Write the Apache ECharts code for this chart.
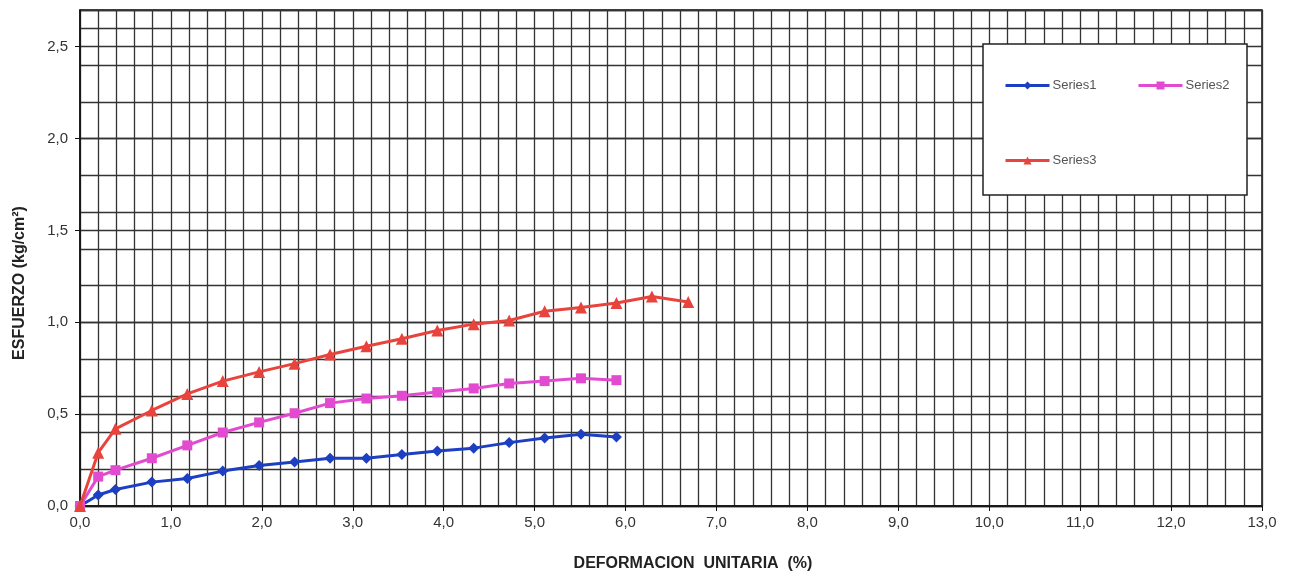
<!DOCTYPE html>
<html>
<head>
<meta charset="utf-8">
<script src="https://cdn.jsdelivr.net/npm/echarts@6/dist/echarts.min.js"></script>
<style>
html,body{margin:0;padding:0;background:#fff;}
#chart{width:1289px;height:577px;}
</style>
</head>
<body>
<div id="chart"></div>
<script>
// Deformación unitaria (%) shared by all series
const strain = [0, 0.2, 0.39, 0.79, 1.18, 1.57, 1.97, 2.36, 2.75, 3.15, 3.54, 3.93, 4.33, 4.72, 5.11, 5.51, 5.9, 6.29, 6.69];
// Esfuerzo (kg/cm²)
const series1 = [0, 0.06, 0.09, 0.13, 0.15, 0.19, 0.22, 0.24, 0.26, 0.26, 0.28, 0.30, 0.315, 0.345, 0.37, 0.39, 0.375];
const series2 = [0, 0.16, 0.195, 0.26, 0.33, 0.40, 0.455, 0.505, 0.56, 0.585, 0.60, 0.62, 0.64, 0.667, 0.68, 0.695, 0.685];
const series3 = [0, 0.29, 0.42, 0.52, 0.61, 0.68, 0.73, 0.775, 0.825, 0.87, 0.91, 0.955, 0.99, 1.01, 1.06, 1.08, 1.105, 1.14, 1.11];
const seriesNames = ['Series1', 'Series2', 'Series3'];
const xAxisName = 'DEFORMACION  UNITARIA  (%)';
const yAxisName = 'ESFUERZO (kg/cm²)';

function pairs(ys) { return ys.map((y, i) => [strain[i], y]); }
const fmt = v => v.toFixed(1).replace('.', ',');
const gridColor = '#333';
const font = 'Liberation Sans, Arial, sans-serif';

const chart = echarts.init(document.getElementById('chart'));
chart.setOption({
  animation: false,
  backgroundColor: '#fff',
  grid: { left: 80, right: 27, top: 10, bottom: 70, show: true, borderColor: '#111', borderWidth: 1.5, backgroundColor: 'transparent' },
  xAxis: {
    type: 'value', min: 0, max: 13, interval: 1,
    name: xAxisName, nameLocation: 'middle', nameGap: 50,
    nameTextStyle: { fontFamily: font, fontSize: 16, fontWeight: 'bold', color: '#222', padding: [0, 0, 0, 44] },
    axisLine: { lineStyle: { color: '#111', width: 1.5 } },
    axisTick: { show: true, length: 5, lineStyle: { color: '#111' } },
    axisLabel: { formatter: fmt, fontFamily: font, fontSize: 15, color: '#333', margin: 9 },
    splitLine: { show: true, lineStyle: { color: gridColor, width: 1.3 } },
    minorTick: { show: false, splitNumber: 5 },
    minorSplitLine: { show: true, lineStyle: { color: gridColor, width: 1.3 } }
  },
  yAxis: [{
    type: 'value', min: 0, max: 2.7, interval: 0.5,
    name: yAxisName, nameLocation: 'middle', nameGap: 52,
    nameTextStyle: { fontFamily: font, fontSize: 16, fontWeight: 'bold', color: '#222', padding: [0, 50, 0, 0] },
    axisLine: { show: true, lineStyle: { color: '#111', width: 1.5 } },
    axisTick: { show: true, length: 5, lineStyle: { color: '#111' } },
    axisLabel: { formatter: fmt, showMaxLabel: false, fontFamily: font, fontSize: 15, color: '#333', margin: 12 },
    splitLine: { show: true, lineStyle: { color: gridColor, width: 1.3 } }
  }, {
    type: 'value', min: 0, max: 2.7, interval: 0.2, position: 'left',
    axisLine: { show: false }, axisTick: { show: false }, axisLabel: { show: false },
    splitLine: { show: true, lineStyle: { color: gridColor, width: 1.3 } }
  }],
  legend: [
    { data: [seriesNames[0]], left: 999, top: 74 },
    { data: [seriesNames[1]], left: 1132, top: 74 },
    { data: [seriesNames[2]], left: 999, top: 149 }
  ].map(l => Object.assign(l, {
    z: 20, itemWidth: 44, itemHeight: 10, itemGap: 4,
    lineStyle: { width: 3 },
    textStyle: { fontFamily: font, fontSize: 13, color: '#555', padding: [0, 0, 0, -2] }
  })),
  graphic: [{
    type: 'rect', z: 10,
    shape: { x: 983, y: 44, width: 264, height: 151 },
    style: { fill: '#fff', stroke: '#222', lineWidth: 1.5 }
  }],
  series: [
    { name: seriesNames[0], type: 'line', data: pairs(series1), symbol: 'diamond', symbolSize: 11,
      itemStyle: { color: '#1d3fc2' }, lineStyle: { width: 3, color: '#1d3fc2' }, z: 3 },
    { name: seriesNames[1], type: 'line', data: pairs(series2), symbol: 'rect', symbolSize: 10,
      itemStyle: { color: '#e24bd0' }, lineStyle: { width: 3, color: '#e24bd0' }, z: 4 },
    { name: seriesNames[2], type: 'line', data: pairs(series3), symbol: 'triangle', symbolSize: 12,
      itemStyle: { color: '#e8433c' }, lineStyle: { width: 3, color: '#e8433c' }, z: 5 }
  ]
});
</script>
</body>
</html>
